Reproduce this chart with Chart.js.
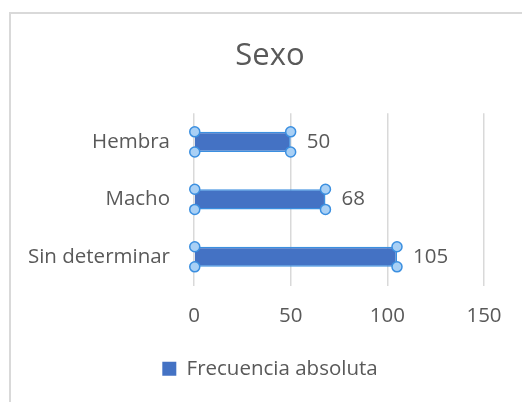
<!DOCTYPE html>
<html>
<head>
<meta charset="utf-8">
<script src="https://cdn.jsdelivr.net/npm/chart.js@4/dist/chart.umd.min.js"></script>
<style>
  body { margin: 0; background: #fff; }
  canvas { display: block; }
</style>
</head>
<body>
<canvas id="sexoChart" width="522" height="402"></canvas>
<script>
// Data
const categorias = ['Hembra', 'Macho', 'Sin determinar'];
const frecuencias = [50, 68, 105];
const marcasX = [0, 50, 100, 150];
const serieNombre = 'Frecuencia absoluta';
const tituloTexto = 'Sexo';

const gris = '#595959';
const fuente = '"Open Sans", "DejaVu Sans", sans-serif';

// light frame of the chart box (left and top edge only visible)
const marcoPlugin = {
    id: 'marco',
    beforeDraw(chart) {
        const ctx = chart.ctx;
        ctx.save();
        ctx.fillStyle = '#fff';
        ctx.fillRect(0, 0, chart.width, chart.height);
        ctx.strokeStyle = '#d9d9d9';
        ctx.lineWidth = 2;
        ctx.beginPath();
        ctx.moveTo(10, chart.height);
        ctx.lineTo(10, 13);
        ctx.lineTo(chart.width, 13);
        ctx.stroke();
        ctx.restore();
    }
};

// selection handles at the bar corners + value labels
const barrasPlugin = {
    id: 'barras',
    afterDatasetsDraw(chart) {
        const ctx = chart.ctx;
        const meta = chart.getDatasetMeta(0);
        ctx.save();
        meta.data.forEach((bar, i) => {
            const p = bar.getProps(['x', 'y', 'base', 'height'], true);
            const top = p.y - p.height / 2;
            const bottom = p.y + p.height / 2;
            [[p.base, top], [p.base, bottom], [p.x, top], [p.x, bottom]].forEach(c => {
                ctx.beginPath();
                ctx.arc(c[0], c[1], 5, 0, Math.PI * 2);
                ctx.fillStyle = '#a9d0f5';
                ctx.fill();
                ctx.lineWidth = 1.5;
                ctx.strokeStyle = '#3b8fe0';
                ctx.stroke();
            });
            ctx.fillStyle = gris;
            ctx.font = '20.5px ' + fuente;
            ctx.textAlign = 'left';
            ctx.textBaseline = 'middle';
            ctx.fillText(String(frecuencias[i]), p.x + 16, p.y);
        });
        ctx.restore();
    }
};

new Chart(document.getElementById('sexoChart'), {
    type: 'bar',
    data: {
        labels: categorias,
        datasets: [{
            label: serieNombre,
            data: frecuencias,
            backgroundColor: '#4472c4',
            borderColor: '#3b8fe0',
            borderWidth: 1.5,
            barPercentage: 0.35,
            categoryPercentage: 1
        }]
    },
    options: {
        indexAxis: 'y',
        responsive: false,
        animation: false,
        devicePixelRatio: 1,
        layout: { padding: { left: 18, right: 0, top: 13, bottom: 13 } },
        scales: {
            x: {
                min: marcasX[0],
                max: marcasX[marcasX.length - 1],
                afterBuildTicks: scale => { scale.ticks = marcasX.map(v => ({ value: v })); },
                ticks: { color: gris, font: { family: fuente, size: 20.5 }, padding: 18 },
                grid: { color: '#d9d9d9', lineWidth: 1.5, drawTicks: false },
                border: { display: false },
                afterFit: scale => { scale.height = 63; }
            },
            y: {
                ticks: { color: gris, font: { family: fuente, size: 20.5 }, padding: 24 },
                grid: { display: false, drawTicks: false },
                border: { display: false },
                afterFit: scale => { scale.width = 176; }
            },
            y2: {
                type: 'category',
                position: 'right',
                labels: categorias,
                ticks: { display: false },
                grid: { display: false, drawTicks: false },
                border: { display: false },
                afterFit: scale => { scale.width = 38; }
            }
        },
        plugins: {
            title: {
                display: true,
                text: tituloTexto,
                color: gris,
                font: { family: fuente, size: 31, weight: 'normal' },
                padding: { top: 25, bottom: 38 }
            },
            legend: {
                position: 'bottom',
                labels: {
                    color: gris,
                    font: { family: fuente, size: 20.5 },
                    boxWidth: 14,
                    boxHeight: 14,
                    padding: 10,
                    generateLabels: chart => chart.data.datasets.map((ds, i) => ({
                        text: ds.label,
                        fillStyle: ds.backgroundColor,
                        strokeStyle: ds.backgroundColor,
                        lineWidth: 0,
                        fontColor: gris,
                        datasetIndex: i
                    }))
                }
            },
            tooltip: { enabled: false }
        }
    },
    plugins: [marcoPlugin, barrasPlugin]
});
</script>
</body>
</html>
